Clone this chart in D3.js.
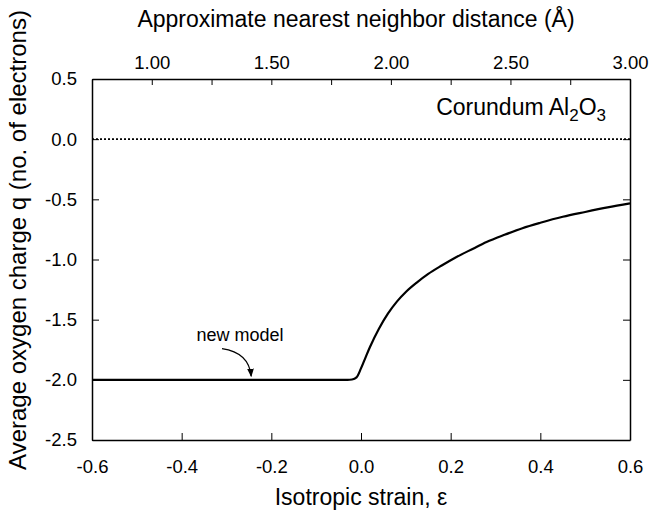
<!DOCTYPE html>
<html>
<head>
<meta charset="utf-8">
<script src="https://cdn.jsdelivr.net/npm/d3@7"></script>
<style>
  html, body { margin: 0; padding: 0; background: #fff; }
  svg { display: block; font-family: "Liberation Sans", Arial, Helvetica, sans-serif; }
  .tick text { font-size: 18.5px; fill: #000; }
  .domain, .tick line { stroke: #000; }
</style>
</head>
<body>
<svg id="chart" width="669" height="510"></svg>
<script>
// Average oxygen charge in corundum under isotropic strain
const strain = [-0.6, -0.3, -0.05, -0.03, -0.02, -0.01, 0.0, 0.01, 0.02, 0.04, 0.06, 0.08, 0.10,
                0.125, 0.15, 0.18, 0.21, 0.25, 0.28, 0.32, 0.36, 0.40, 0.45, 0.50, 0.55, 0.6];
const charge = [-2.0, -2.0, -2.0, -2.0, -1.997, -1.98, -1.905, -1.815, -1.727, -1.575, -1.45, -1.35, -1.27,
                -1.19, -1.12, -1.05, -0.985, -0.91, -0.855, -0.795, -0.74, -0.695, -0.645, -0.605, -0.567, -0.533];

const strainTicks = [-0.6, -0.4, -0.2, 0.0, 0.2, 0.4, 0.6];
const chargeTicks = [0.5, 0.0, -0.5, -1.0, -1.5, -2.0, -2.5];
const distanceDomain = [0.75, 3.0];
const distanceTicks = [0.75, 1.0, 1.25, 1.5, 1.75, 2.0, 2.25, 2.5, 2.75, 3.0];
const distanceLabels = [1.0, 1.5, 2.0, 2.5, 3.0];
const referenceCharge = 0.0;

const svg = d3.select("#chart");
const m = { left: 92, right: 630, top: 79, bottom: 440 };

const x = d3.scaleLinear().domain([-0.6, 0.6]).range([m.left, m.right]);
const y = d3.scaleLinear().domain([-2.5, 0.5]).range([m.bottom, m.top]);
const xTop = d3.scaleLinear().domain(distanceDomain).range([m.left, m.right]);

const tickLen = 7;
const fmt1 = d => d3.format(".1f")(d).replace("−", "-");

// bottom axis: strain
svg.append("g")
  .attr("transform", `translate(0,${m.bottom})`)
  .call(d3.axisBottom(x).tickValues(strainTicks).tickFormat(fmt1)
        .tickSizeInner(-tickLen).tickSizeOuter(0).tickPadding(20))
  .call(g => g.select(".domain").attr("stroke-width", 1.5));

// top axis: nearest neighbour distance
svg.append("g")
  .attr("transform", `translate(0,${m.top})`)
  .call(d3.axisTop(xTop).tickValues(distanceTicks)
        .tickFormat(d => distanceLabels.some(v => Math.abs(v - d) < 1e-9) ? d3.format(".2f")(d) : "")
        .tickSizeInner(-tickLen + 1).tickSizeOuter(0).tickPadding(10))
  .call(g => g.select(".domain").attr("stroke-width", 1.5));

// left axis: charge
svg.append("g")
  .attr("transform", `translate(${m.left},0)`)
  .call(d3.axisLeft(y).tickValues(chargeTicks).tickFormat(fmt1)
        .tickSizeInner(-tickLen).tickSizeOuter(0).tickPadding(15))
  .call(g => g.select(".domain").attr("stroke-width", 1.5));

// right axis: ticks only
svg.append("g")
  .attr("transform", `translate(${m.right},0)`)
  .call(d3.axisRight(y).tickValues(chargeTicks).tickFormat("")
        .tickSizeInner(-tickLen).tickSizeOuter(0))
  .call(g => g.select(".domain").attr("stroke-width", 1.5));

// dotted zero-charge reference
svg.append("line")
  .attr("x1", m.left).attr("x2", m.right)
  .attr("y1", y(referenceCharge)).attr("y2", y(referenceCharge))
  .attr("stroke", "#000").attr("stroke-width", 1.6)
  .attr("stroke-dasharray", "2,2");

// charge curve
const pts = strain.map((s, i) => [s, charge[i]]);
svg.append("path")
  .datum(pts)
  .attr("fill", "none")
  .attr("stroke", "#000")
  .attr("stroke-width", 2.2)
  .attr("d", d3.line().x(d => x(d[0])).y(d => y(d[1])).curve(d3.curveMonotoneX));

// annotation
svg.append("text")
  .attr("x", 240).attr("y", 341)
  .attr("text-anchor", "middle")
  .attr("font-size", 18)
  .text("new model");

svg.append("defs").append("marker")
  .attr("id", "arrowhead")
  .attr("viewBox", "0 0 10 10")
  .attr("refX", 9).attr("refY", 5)
  .attr("markerWidth", 7).attr("markerHeight", 7)
  .attr("orient", "auto")
  .append("path").attr("d", "M0,1 L10,5 L0,9 Z").attr("fill", "#000");

const ax0 = x(-0.31), ay0 = y(-1.74);
const ax1 = x(-0.245), ay1 = y(-1.97);
svg.append("path")
  .attr("d", `M${ax0},${ay0} Q${ax1 - 2},${ay0 + 4} ${ax1},${ay1}`)
  .attr("fill", "none").attr("stroke", "#000").attr("stroke-width", 1.2)
  .attr("marker-end", "url(#arrowhead)");

// material label
const lab = svg.append("text")
  .attr("x", 606).attr("y", 115)
  .attr("text-anchor", "end")
  .attr("font-size", 23);
lab.append("tspan").text("Corundum Al");
lab.append("tspan").attr("dy", 6).attr("font-size", 17).text("2");
lab.append("tspan").attr("dy", -6).text("O");
lab.append("tspan").attr("dy", 6).attr("font-size", 17).text("3");

// axis titles
svg.append("text")
  .attr("x", 356).attr("y", 27)
  .attr("text-anchor", "middle").attr("font-size", 23)
  .text("Approximate nearest neighbor distance (Å)");

svg.append("text")
  .attr("x", 361).attr("y", 505)
  .attr("text-anchor", "middle").attr("font-size", 23)
  .text("Isotropic strain, ε");

svg.append("text")
  .attr("transform", `translate(26,240) rotate(-90)`)
  .attr("text-anchor", "middle").attr("font-size", 24)
  .text("Average oxygen charge q (no. of electrons)");
</script>
</body>
</html>
